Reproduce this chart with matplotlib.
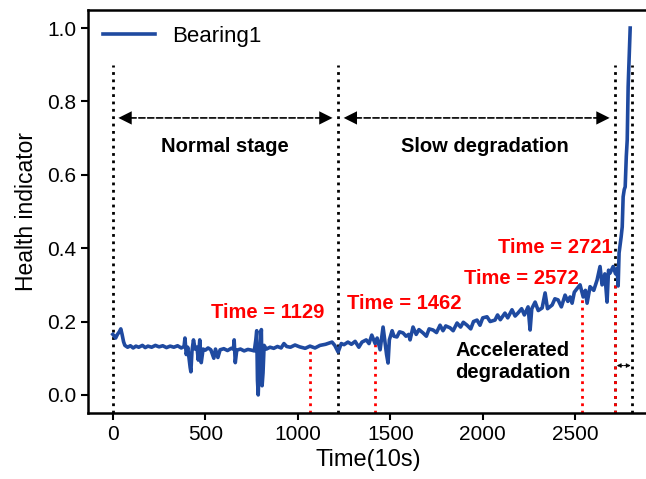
import matplotlib
matplotlib.use('Agg')
import matplotlib.pyplot as plt

plt.rcParams['font.family'] = ['Liberation Sans', 'DejaVu Sans']

# health indicator (time in 10s units)
time_pts = [0, 8, 15, 25, 35, 43, 50, 58, 65, 80, 95, 110, 125, 140, 160, 175, 190,
            210, 230, 250, 270, 290, 310, 330, 350, 370, 385, 390, 397, 405, 412, 418,
            422, 428, 436, 445, 455, 462, 470, 478, 488, 500, 515, 530, 546, 555, 568,
            580, 600, 620, 640, 652, 656, 662, 670, 690, 710, 730, 750, 765, 773, 778,
            782, 786, 791, 797, 803, 807, 812, 818, 830, 850, 870, 890, 910, 925, 940,
            960, 985, 1010, 1040, 1066, 1093, 1120, 1150, 1185, 1200, 1218, 1235, 1250,
            1271, 1290, 1310, 1330, 1347, 1370, 1385, 1400, 1418, 1429, 1445, 1461, 1470,
            1480, 1488, 1495, 1510, 1520, 1536, 1550, 1569, 1585, 1600, 1607, 1623, 1640,
            1655, 1677, 1695, 1710, 1731, 1750, 1769, 1785, 1800, 1823, 1840, 1861, 1880,
            1895, 1915, 1935, 1950, 1969, 1985, 2000, 2023, 2040, 2066, 2080, 2095, 2120,
            2135, 2158, 2175, 2190, 2210, 2225, 2245, 2256, 2265, 2283, 2300, 2321, 2337,
            2350, 2375, 2390, 2407, 2425, 2445, 2460, 2472, 2483, 2495, 2510, 2526, 2543,
            2555, 2564, 2580, 2600, 2618, 2634, 2645, 2651, 2660, 2672, 2680, 2688, 2705,
            2718, 2726, 2732, 2737, 2748, 2754, 2759, 2765, 2770, 2776, 2781, 2786, 2792,
            2797]
hi_vals = [0.165, 0.160, 0.155, 0.165, 0.172, 0.180, 0.165, 0.145, 0.135, 0.130, 0.134,
           0.128, 0.133, 0.130, 0.135, 0.129, 0.133, 0.130, 0.135, 0.131, 0.134, 0.129,
           0.133, 0.130, 0.134, 0.128, 0.132, 0.155, 0.110, 0.130, 0.100, 0.075, 0.063,
           0.120, 0.150, 0.125, 0.130, 0.095, 0.150, 0.088, 0.125, 0.122, 0.128, 0.123,
           0.100, 0.125, 0.102, 0.123, 0.126, 0.121, 0.127, 0.125, 0.150, 0.088, 0.122,
           0.125, 0.120, 0.124, 0.122, 0.120, 0.150, 0.175, 0.040, 0.000, 0.080, 0.130,
           0.178, 0.025, 0.060, 0.135, 0.125, 0.130, 0.127, 0.132, 0.128, 0.140, 0.132,
           0.130, 0.136, 0.131, 0.127, 0.133, 0.128, 0.135, 0.138, 0.144, 0.135, 0.117,
           0.140, 0.137, 0.144, 0.138, 0.146, 0.130, 0.144, 0.150, 0.140, 0.163, 0.140,
           0.155, 0.123, 0.185, 0.150, 0.110, 0.087, 0.150, 0.175, 0.160, 0.158, 0.172,
           0.169, 0.160, 0.165, 0.150, 0.185, 0.165, 0.178, 0.169, 0.160, 0.180, 0.177,
           0.170, 0.190, 0.175, 0.188, 0.183, 0.175, 0.196, 0.185, 0.198, 0.190, 0.180,
           0.200, 0.204, 0.190, 0.210, 0.213, 0.200, 0.204, 0.218, 0.205, 0.223, 0.210,
           0.232, 0.215, 0.223, 0.235, 0.218, 0.240, 0.177, 0.235, 0.253, 0.230, 0.237,
           0.278, 0.235, 0.245, 0.262, 0.259, 0.240, 0.272, 0.255, 0.267, 0.250, 0.280,
           0.290, 0.300, 0.267, 0.285, 0.250, 0.295, 0.285, 0.313, 0.350, 0.300, 0.305,
           0.330, 0.253, 0.340, 0.332, 0.350, 0.330, 0.345, 0.297, 0.387, 0.430, 0.458,
           0.540, 0.560, 0.567, 0.650, 0.695, 0.840, 0.930, 1.000]

# stage boundaries (black dotted) and change points (red dotted)
stage_bounds = [0, 1218, 2716, 2808]
change_x = [1066, 1418, 2538, 2716]
change_y = [0.133, 0.140, 0.290, 0.300]
change_labels = ['Time = 1129', 'Time = 1462', 'Time = 2572', 'Time = 2721']
label_pos = [(835, 0.226), (1575, 0.250), (2208, 0.316), (2392, 0.403)]

fig = plt.figure(figsize=(6.46, 4.79), dpi=100)
ax = fig.add_axes([0.136, 0.138, 0.869, 0.841])

ax.plot(time_pts, hi_vals, color='#1f4aa0', lw=2.6, label='Bearing1', zorder=3)

ax.vlines(stage_bounds, -0.05, 0.9, colors='k', linestyles=':', lw=2)
ax.vlines(change_x, -0.05, change_y, colors='red', linestyles=':', lw=2)

# stage arrows
arr_y = 0.755
for a, b in [(stage_bounds[0], stage_bounds[1]), (stage_bounds[1], stage_bounds[2])]:
    ax.annotate('', xy=(b, arr_y), xytext=(a, arr_y),
                arrowprops=dict(arrowstyle='-', ls='--', lw=1.2, color='k',
                                shrinkA=6, shrinkB=6))
    ax.annotate('', xy=(b, arr_y), xytext=(a, arr_y),
                arrowprops=dict(arrowstyle='<|-|>', lw=0, color='k', mutation_scale=24,
                                shrinkA=4, shrinkB=4))
ax.annotate('', xy=(stage_bounds[3], 0.08), xytext=(stage_bounds[2], 0.08),
            arrowprops=dict(arrowstyle='<|-|>', lw=0.8, ls=(0, (1, 1)), color='k',
                            mutation_scale=6, shrinkA=1, shrinkB=1))

bold_fs = 14.5
ax.text(606, 0.676, 'Normal stage', fontsize=bold_fs, fontweight='bold', ha='center', va='center')
ax.text(2013, 0.676, 'Slow degradation', fontsize=bold_fs, fontweight='bold', ha='center', va='center')
ax.text(2160, 0.092, 'Accelerated\ndegradation', fontsize=bold_fs, fontweight='bold',
        ha='center', va='center')
for lab, (tx, ty) in zip(change_labels, label_pos):
    ax.text(tx, ty, lab, fontsize=bold_fs, fontweight='bold', color='red', ha='center', va='center')

ax.set_xlim(-135, 2900)
ax.set_ylim(-0.049, 1.049)
ax.set_xticks([0, 500, 1000, 1500, 2000, 2500])
ax.set_yticks([0.0, 0.2, 0.4, 0.6, 0.8, 1.0])
ax.tick_params(labelsize=15, width=1.5, length=5)
for s in ax.spines.values():
    s.set_linewidth(1.8)
ax.set_xlabel('Time(10s)', fontsize=17)
ax.set_ylabel('Health indicator', fontsize=16.5, labelpad=6)
ax.legend(loc='upper left', frameon=False, fontsize=16, handlelength=2.3,
          borderaxespad=0.3)

fig.savefig('out.png', dpi=100)
